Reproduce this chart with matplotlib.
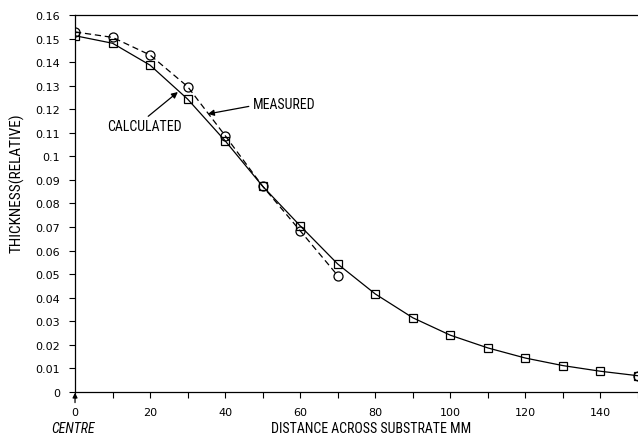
import matplotlib
matplotlib.use("Agg")
import matplotlib.pyplot as plt
from matplotlib import font_manager
import numpy as np

# distance across substrate (mm)
dist_meas = [0, 10, 20, 30, 40, 50, 60, 70]
thick_meas = [0.1528, 0.1505, 0.1430, 0.1296, 0.1088, 0.0873, 0.0684, 0.0494]

dist_calc = [0, 10, 20, 30, 40, 50, 60, 70, 80, 90, 100, 110, 120, 130, 140, 150]
thick_calc = [0.1512, 0.1480, 0.1387, 0.1243, 0.1066, 0.0873, 0.0705, 0.0543,
              0.0416, 0.0315, 0.0241, 0.0187, 0.0144, 0.0112, 0.0088, 0.0069]

yticks = np.arange(0, 0.161, 0.01)
ytick_labels = ["0", "0.01", "0.02", "0.03", "0.04", "0.05", "0.06", "0.07", "0.08",
                "0.09", "0.1", "0.11", "0.12", "0.13", "0.14", "0.15", "0.16"]
xticks_major = [0, 20, 40, 60, 80, 100, 120, 140]
xticks_minor = [10, 30, 50, 70, 90, 110, 130, 150]

# narrow font for the hand-lettered labels, if one is around
names = {f.name for f in font_manager.fontManager.ttflist}
narrow = None
for cand in ["Liberation Sans Narrow", "DejaVu Sans Condensed", "Roboto Condensed",
             "Open Sans Condensed"]:
    if cand in names:
        narrow = cand
        break
lab_kw = dict(family=[narrow or "DejaVu Sans", "DejaVu Sans"], fontstretch="condensed")

fig = plt.figure(figsize=(6.38, 4.39), dpi=100)
ax = fig.add_axes([0.1176, 0.1048, 0.8824, 0.8588])

ax.plot(dist_calc, thick_calc, color="black", linewidth=0.9, marker="s",
        markersize=6, markerfacecolor="none", markeredgewidth=0.9)
ax.plot(dist_meas, thick_meas, color="black", linewidth=0.9, linestyle=(0, (5, 3)),
        marker="o", markersize=6.5, markerfacecolor="none", markeredgewidth=0.9)
# last point drawn as a circle at the right edge
ax.plot(dist_calc[-1:], thick_calc[-1:], linestyle="none", marker="o", markersize=6.5,
        markerfacecolor="none", markeredgecolor="black", markeredgewidth=0.9, clip_on=False)

ax.set_xlim(0, 150)
ax.set_ylim(0, 0.16)
ax.set_yticks(yticks)
ax.set_yticklabels(ytick_labels)
ax.set_xticks(xticks_major)
ax.set_xticks(xticks_minor, minor=True)
ax.tick_params(axis="both", which="both", direction="out", length=4, width=0.8,
               labelsize=8, pad=7)

ax.spines["right"].set_visible(False)
for s in ["left", "bottom", "top"]:
    ax.spines[s].set_linewidth(0.9)

ax.set_ylabel("THICKNESS(RELATIVE)", fontsize=11, **lab_kw)
ax.yaxis.set_label_coords(-0.089, 0.557)
fig.text(0.582, 0.006, "DISTANCE ACROSS SUBSTRATE MM", fontsize=10,
         ha="center", va="bottom", **lab_kw)

arrow = dict(arrowstyle="-|>", color="black", lw=0.9, shrinkA=0, shrinkB=0,
             mutation_scale=9)
ax.text(18.6, 0.1129, "CALCULATED", fontsize=10, ha="center", va="center", **lab_kw)
ax.annotate("", xy=(27.4, 0.1273), xytext=(19.5, 0.1170), arrowprops=arrow)
ax.text(55.6, 0.1222, "MEASURED", fontsize=10, ha="center", va="center", **lab_kw)
ax.annotate("", xy=(35.4, 0.1180), xytext=(46.3, 0.1212), arrowprops=arrow)

ax.text(-0.6, -0.0151, "CENTRE", fontsize=10, ha="center", va="center",
        fontstyle="italic", **lab_kw)
ax.annotate("", xy=(0, -0.0003), xytext=(0, -0.0045), annotation_clip=False,
            arrowprops=dict(arrowstyle="-|>", color="black", lw=0.9, shrinkA=0,
                            shrinkB=0, mutation_scale=7))

fig.savefig("out.png", dpi=100)
